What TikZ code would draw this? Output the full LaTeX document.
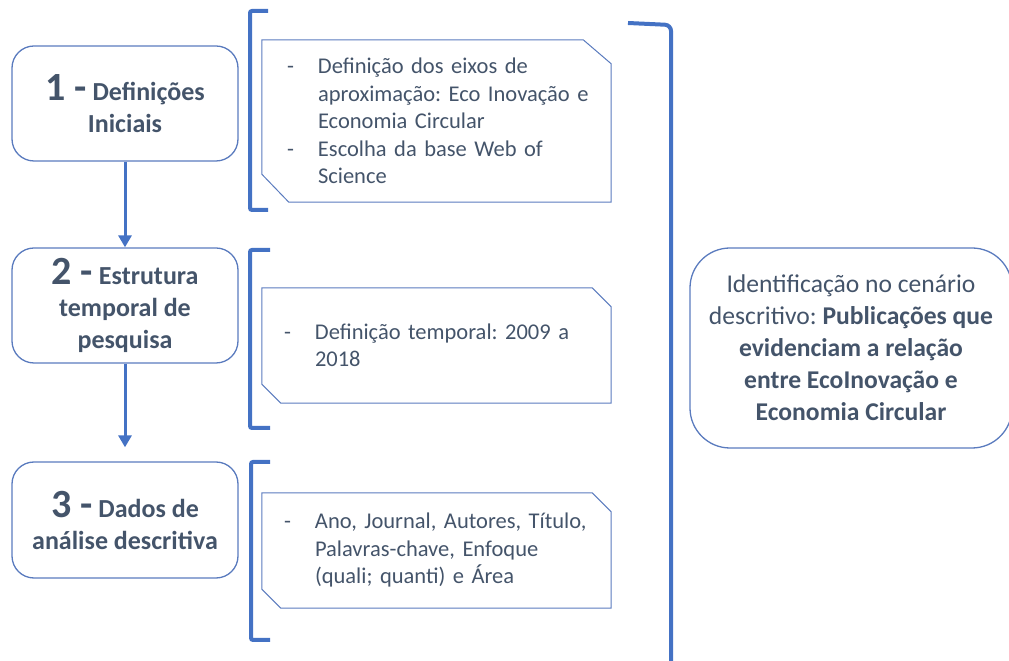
\documentclass[tikz,border=0pt]{standalone}
\usepackage{fontspec}
\setmainfont{Carlito}
\usetikzlibrary{arrows.meta,calc}
\definecolor{txt}{HTML}{44546A}
\definecolor{blu}{HTML}{4472C4}
\definecolor{edge}{HTML}{5A7BBE}
\newcommand\dashitem[1]{\mbox{\makebox[31pt][l]{-}#1}}
\newcommand\contind[1]{\mbox{\hspace*{31pt}#1}}
\newcommand\bignum[1]{{\fontsize{40}{40}\selectfont #1}}
\frenchspacing
\begin{document}
\begin{tikzpicture}[x=1pt,y=1pt,
  stepbox/.style={draw=edge, line width=1.3pt, rounded corners=22pt, minimum width=226pt, minimum height=115pt, align=center, text=txt, font=\bfseries\fontsize{26}{32}\selectfont\frenchspacing, inner sep=0pt},
  snipbox/.style={minimum width=349pt, minimum height=115pt, text width=305pt, inner xsep=22pt, inner ysep=0pt, align=left, text=txt, font=\fontsize{22.5}{27.5}\selectfont\frenchspacing},
  snipline/.style={draw=edge, line width=1pt},
  brk/.style={draw=blu, line width=4pt, rounded corners=2pt},
  flow/.style={draw=blu, line width=3pt, -{Triangle[length=12pt,width=13pt]}},
  resbox/.style={draw=edge, line width=1.3pt, rounded corners=40pt, minimum width=322pt, minimum height=200pt, align=center, text=txt, font=\fontsize{25.6}{32}\selectfont\frenchspacing, inner sep=0pt}]
\useasboundingbox (0,0) rectangle (1009,661);

% left step boxes
\node[stepbox] (b1) at (125,557.5) {\bignum{1 -} Definições\\Iniciais};
\node[stepbox] (b2) at (125,355.5) {\bignum{2 -} Estrutura\\temporal de\\pesquisa};
\node[stepbox, minimum height=116pt] (b3) at (125,141) {\bignum{3 -} Dados de\\análise descritiva};

% arrows
\draw[flow] (b1.south) -- (b2.north);
\draw[flow, shorten >=14pt] (b2.south) -- (b3.north);

% left brackets
\draw[brk] (268,650) -- (250,650) -- (250,451) -- (268,451);
\draw[brk] (270,411) -- (250,411) -- (250,233) -- (270,233);
\draw[brk] (270,199) -- (251,199) -- (251,21) -- (270,21);

% middle snipped boxes
\node[snipbox, minimum height=162pt, inner xsep=25pt, text width=299pt] (mA) at (436.5,540)
  {\dashitem{Definição dos eixos de}\\
   \contind{aproximação: Eco Inovação e}\\
   \contind{Economia Circular}\\
   \dashitem{Escolha da base Web of}\\
   \contind{Science}};
\draw[snipline] (mA.north west) -- ($(mA.north east)+(-28,0)$) -- ($(mA.north east)+(0,-24)$)
  -- (mA.south east) -- ($(mA.south west)+(27,0)$) -- ($(mA.south west)+(0,28)$) -- cycle;

\node[snipbox] (mB) at (436.5,315.5)
  {\dashitem{Definição temporal: 2009 a}\\
   \contind{2018}};
\draw[snipline] (mB.north west) -- ($(mB.north east)+(-19,0)$) -- ($(mB.north east)+(0,-19)$)
  -- (mB.south east) -- ($(mB.south west)+(19,0)$) -- ($(mB.south west)+(0,19)$) -- cycle;

\node[snipbox] (mC) at (436.5,110.5)
  {\dashitem{Ano, Journal, Autores, Título,}\\
   \contind{Palavras-chave, Enfoque}\\
   \contind{(quali; quanti) e Área}};
\draw[snipline] (mC.north west) -- ($(mC.north east)+(-19,0)$) -- ($(mC.north east)+(0,-19)$)
  -- (mC.south east) -- ($(mC.south west)+(19,0)$) -- ($(mC.south west)+(0,19)$) -- cycle;

% right bracket
\draw[brk, rounded corners=6pt] (628,638) -- (671,636) -- (671,-10);

% result box
\node[resbox] (res) at (851,313)
  {Identificação no cenário\\
   descritivo: \textbf{Publicações que}\\
   \textbf{evidenciam a relação}\\
   \textbf{entre EcoInovação e}\\
   \textbf{Economia Circular}};
\end{tikzpicture}
\end{document}
